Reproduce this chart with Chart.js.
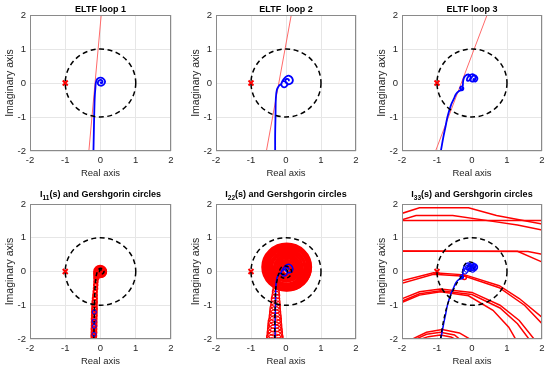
<!DOCTYPE html>
<html>
<head>
<meta charset="utf-8">
<script src="https://cdn.jsdelivr.net/npm/chart.js@4.4.1/dist/chart.umd.min.js"></script>
<style>
  body { margin: 0; width: 550px; height: 370px; overflow: hidden; background: #fff; position: relative; }
  canvas { position: absolute; }
</style>
</head>
<body>
<canvas id="p1" width="183" height="185" style="left:0px;top:0px"></canvas>
<canvas id="p2" width="182" height="185" style="left:186px;top:0px"></canvas>
<canvas id="p3" width="182" height="185" style="left:372px;top:0px"></canvas>
<canvas id="p4" width="183" height="184" style="left:0px;top:189px"></canvas>
<canvas id="p5" width="182" height="184" style="left:186px;top:189px"></canvas>
<canvas id="p6" width="182" height="184" style="left:372px;top:189px"></canvas>
<script>
// ---- data ----

// critical point
const critX = [-1];
const critY = [0];

// unit circle (centre x, centre y, radius)
const unitCx = [0];
const unitCy = [0];
const unitR = [1];

// thin red straight lines (top row)
const line1X = [-0.33, 0.02];
const line1Y = [-2, 2];
const line2X = [-0.56, 0.15];
const line2Y = [-2, 2];
const line3X = [-1.04, 0.43];
const line3Y = [-2, 2];

// ELTF loop 1
const eltf1X = [-0.20, -0.19, -0.18, -0.17, -0.16, -0.145, -0.13, -0.09, -0.01, 0.08, 0.13, 0.09, 0.00, -0.07, -0.06, 0.00, 0.05, 0.05, 0.01, 0.00];
const eltf1Y = [-2.00, -1.50, -1.00, -0.60, -0.35, -0.15, 0.02, 0.12, 0.16, 0.13, 0.04, -0.05, -0.08, -0.03, 0.05, 0.09, 0.06, 0.01, 0.00, 0.04];

// ELTF loop 2
const eltf2X = [-0.31, -0.31, -0.30, -0.29, -0.26, -0.20, -0.14, -0.10, -0.04, 0.03, 0.02, -0.06, -0.13, -0.12, -0.06, 0.02, 0.10, 0.18, 0.19, 0.12, 0.03, -0.02, 0.02, 0.08, 0.08];
const eltf2Y = [-2.00, -1.50, -1.00, -0.45, -0.20, -0.08, -0.03, 0.04, 0.05, 0.00, -0.09, -0.13, -0.07, 0.02, 0.12, 0.20, 0.21, 0.14, 0.04, -0.03, -0.02, 0.06, 0.12, 0.10, 0.05];

// ELTF loop 3
const eltf3X = [-0.89, -0.82, -0.75, -0.70, -0.60, -0.52, -0.46, -0.38, -0.32, -0.26, -0.25, -0.29, -0.34, -0.31, -0.27, -0.25, -0.20, -0.10, -0.04, -0.08, -0.14, -0.12, -0.03, 0.06, 0.10, 0.05, -0.03, -0.02, 0.07, 0.14, 0.15, 0.10, 0.04, 0.06];
const eltf3Y = [-2.00, -1.60, -1.25, -0.99, -0.65, -0.47, -0.33, -0.24, -0.22, -0.20, -0.14, -0.10, -0.14, -0.19, -0.14, 0.08, 0.20, 0.25, 0.18, 0.08, 0.07, 0.17, 0.25, 0.24, 0.15, 0.05, 0.05, 0.15, 0.23, 0.18, 0.10, 0.04, 0.08, 0.14];

// I11(s)
const i11X = [-0.19, -0.18, -0.17, -0.16, -0.14, -0.12, -0.08, -0.02, 0.06, 0.10, 0.07, 0.01, -0.03, 0.00, 0.04, 0.03];
const i11Y = [-2.00, -1.50, -1.00, -0.60, -0.30, -0.12, 0.02, 0.09, 0.08, 0.01, -0.06, -0.07, 0.00, 0.05, 0.03, 0.00];
const mark11X = [-0.175, -0.18, -0.18, -0.185];
const mark11Y = [-1.20, -1.47, -1.63, -1.86];
// Gershgorin circles for I11
const g11Cx = [-0.01, 0.01, -0.02, 0.01, 0.00, 0.02, -0.01, 0.00, 0.01, -0.08, -0.10, -0.12, -0.13, -0.135, -0.14, -0.15, -0.155, -0.16, -0.165, -0.17, -0.17, -0.175, -0.175, -0.18, -0.18, -0.18, -0.185, -0.185, -0.19, -0.19];
const g11Cy = [0.00, -0.01, 0.02, 0.00, 0.03, 0.01, 0.00, 0.01, 0.00, -0.05, -0.12, -0.20, -0.30, -0.40, -0.50, -0.60, -0.70, -0.80, -0.90, -1.00, -1.10, -1.20, -1.30, -1.40, -1.50, -1.60, -1.70, -1.80, -1.90, -2.00];
const g11R = [0.17, 0.15, 0.13, 0.12, 0.10, 0.08, 0.07, 0.05, 0.03, 0.10, 0.08, 0.06, 0.05, 0.05, 0.05, 0.05, 0.055, 0.06, 0.065, 0.065, 0.07, 0.07, 0.07, 0.07, 0.07, 0.07, 0.07, 0.07, 0.07, 0.07];

// I22(s)
const i22X = [-0.32, -0.32, -0.31, -0.30, -0.28, -0.24, -0.20, -0.14, -0.02, 0.10, 0.16, 0.11, -0.02, -0.14, -0.18, -0.10, 0.00, 0.05, 0.00, -0.04];
const i22Y = [-2.00, -1.50, -1.00, -0.60, -0.40, -0.20, -0.05, -0.16, -0.20, -0.15, -0.02, 0.11, 0.16, 0.11, 0.00, -0.08, -0.06, 0.02, 0.06, 0.02];
// Gershgorin circles for I22: the tail below the loop ...
const g22TailCx = [-0.32, -0.32, -0.32, -0.32, -0.32, -0.32, -0.32, -0.32, -0.31, -0.31, -0.31, -0.31, -0.30, -0.30, -0.30, -0.29, -0.29, -0.28, -0.28];
const g22TailCy = [-2.20, -2.10, -2.00, -1.90, -1.80, -1.70, -1.60, -1.50, -1.40, -1.30, -1.20, -1.10, -1.00, -0.90, -0.80, -0.70, -0.60, -0.50, -0.40];
const g22TailR = [0.26, 0.25, 0.24, 0.23, 0.22, 0.21, 0.20, 0.19, 0.18, 0.17, 0.16, 0.15, 0.14, 0.13, 0.12, 0.11, 0.10, 0.09, 0.08];
// ... and the dense disk around the origin
const g22DiskCx = [0.02, 0.03, 0.01, 0.02, 0.03, 0.00, 0.02, 0.04, 0.01, 0.02, 0.00, 0.03, 0.02, 0.00, 0.03, 0.01, 0.02, 0.00, 0.02, 0.00, 0.01];
const g22DiskCy = [0.13, 0.12, 0.14, 0.11, 0.15, 0.12, 0.14, 0.12, 0.10, 0.15, 0.12, 0.10, 0.13, 0.10, 0.12, 0.09, 0.11, 0.08, 0.06, 0.04, 0.02];
const g22DiskR = [0.69, 0.67, 0.64, 0.61, 0.58, 0.55, 0.52, 0.49, 0.46, 0.43, 0.40, 0.37, 0.34, 0.31, 0.28, 0.25, 0.22, 0.19, 0.16, 0.13, 0.10];

// I33(s)
const i33X = [-0.90, -0.84, -0.77, -0.69, -0.60, -0.52, -0.45, -0.38, -0.31, -0.28, -0.25, -0.20, -0.10, 0.00, 0.06, 0.05, -0.02, -0.10, -0.14, -0.08, 0.00];
const i33Y = [-2.00, -1.60, -1.25, -0.95, -0.70, -0.52, -0.38, -0.26, -0.15, -0.05, 0.10, 0.22, 0.28, 0.27, 0.18, 0.06, 0.00, 0.04, 0.12, 0.17, 0.12];
const mark33X = [-0.20, -0.15, -0.08, 0.00, 0.05, 0.08, -0.05, 0.02, -0.12];
const mark33Y = [0.00, 0.05, 0.10, 0.12, 0.08, 0.12, 0.15, 0.05, 0.12];
const g33Cx = [-0.22];
const g33Cy = [-0.18];
const g33R = [0.06];
// big Gershgorin circles of I33, as drawn (coarse polygons)
const arcAX = [-2.10, -1.50, -0.10, 0.70, 2.05];
const arcAY = [1.69, 1.89, 1.89, 1.66, 1.40];
const arcBX = [-2.10, -1.60, -0.55, 0.50, 1.30, 2.05];
const arcBY = [1.50, 1.66, 1.66, 1.50, 1.38, 1.22];
const arcCX = [-2.10, 2.05];
const arcCY = [1.51, 1.51];
const arcDX = [-2.10, 1.30, 2.05];
const arcDY = [0.60, 0.60, 0.26];
const arcEX = [-2.10, 1.60, 2.05];
const arcEY = [0.61, 0.59, 0.50];
const arcFX = [-2.10, -1.10, -0.20, 0.78, 1.35, 2.05];
const arcFY = [-0.30, -0.04, -0.10, -0.42, -0.80, -1.40];
const arcGX = [-2.10, -1.10, -0.20, 0.78, 1.50, 2.05];
const arcGY = [-0.38, -0.08, -0.14, -0.48, -1.00, -1.60];
const arcHX = [-2.10, -1.50, -0.90, 0.00, 0.80, 1.35, 1.85];
const arcHY = [-0.85, -0.60, -0.52, -0.62, -1.00, -1.45, -2.10];
const arcIX = [-2.10, -1.50, -0.90, 0.00, 0.80, 1.30, 1.70];
const arcIY = [-0.92, -0.66, -0.57, -0.68, -1.08, -1.55, -2.10];
const arcJX = [-2.10, -1.50, -0.90, -0.10, 0.60, 1.05, 1.30];
const arcJY = [-0.96, -0.70, -0.60, -0.72, -1.15, -1.65, -2.10];
const arcKX = [-1.80, -1.30, -0.85, -0.36, 0.02];
const arcKY = [-2.05, -1.80, -1.72, -1.82, -2.05];
const arcLX = [-1.70, -1.30, -0.90, -0.50, -0.30];
const arcLY = [-2.05, -1.86, -1.80, -1.88, -2.05];
const arcMX = [-1.60, -1.25, -0.90, -0.60, -0.40];
const arcMY = [-2.05, -1.93, -1.88, -1.94, -2.05];

// ---- drawing ----
const FONT = '"Liberation Sans", Arial, sans-serif';
const INK = '#262626';
const BLUE = '#0000ff';
const RED = '#ff0000';

const pts = (xs, ys) => xs.map((x, i) => ({ x: x, y: ys[i] }));

function lineSet(xs, ys, color, width, dash, order, tension) {
    return {
        data: pts(xs, ys), showLine: true, fill: false,
        borderColor: color, backgroundColor: color, borderWidth: width,
        borderDash: dash || [], pointRadius: 0, tension: tension === undefined ? 0.35 : tension,
        order: order
    };
}

function markerSet(xs, ys, color, style, radius, width, order) {
    return {
        data: pts(xs, ys), showLine: false,
        pointStyle: style, pointRadius: radius, pointBorderWidth: width,
        borderColor: color, pointBorderColor: color, backgroundColor: 'rgba(0,0,0,0)', pointBackgroundColor: 'rgba(0,0,0,0)',
        order: order
    };
}

// circles go through the chart's own scales (centre and radius in data units)
function drawCircles(chart, list) {
    const ctx = chart.ctx, area = chart.chartArea;
    const xs = chart.scales.x, ys = chart.scales.y;
    ctx.save();
    ctx.beginPath();
    ctx.rect(area.left, area.top, area.right - area.left, area.bottom - area.top);
    ctx.clip();
    list.forEach(c => {
        ctx.strokeStyle = c.color;
        ctx.lineWidth = c.width;
        ctx.setLineDash(c.dash || []);
        c.cx.forEach((cx, i) => {
            const px = xs.getPixelForValue(cx);
            const py = ys.getPixelForValue(c.cy[i]);
            const rx = Math.abs(xs.getPixelForValue(cx + c.r[i]) - px);
            const ry = Math.abs(ys.getPixelForValue(c.cy[i] + c.r[i]) - py);
            ctx.beginPath();
            ctx.ellipse(px, py, rx, ry, 0, 0, Math.PI * 2);
            ctx.stroke();
        });
    });
    ctx.restore();
}

// title with optional subscript part
function drawTitle(ctx, area, parts, baseline) {
    ctx.save();
    ctx.fillStyle = '#000';
    ctx.textBaseline = 'alphabetic';
    ctx.textAlign = 'left';
    const big = 'bold 9px ' + FONT;
    const small = 'bold 6.5px ' + FONT;
    let w = 0;
    parts.forEach(p => { ctx.font = p.sub ? small : big; w += ctx.measureText(p.t).width; });
    let x = (area.left + area.right) / 2 - w / 2;
    parts.forEach(p => {
        ctx.font = p.sub ? small : big;
        ctx.fillText(p.t, x, baseline + (p.sub ? 2.5 : 0));
        x += ctx.measureText(p.t).width;
    });
    ctx.restore();
}

function axis(title, isX) {
    return {
        type: 'linear', min: -2, max: 2,
        ticks: { stepSize: 1, color: INK, font: { family: FONT, size: 9.5 }, padding: 4 },
        grid: { color: '#e6e6e6', drawTicks: false },
        border: { display: false },
        title: {
            display: true, text: title, color: INK,
            font: { family: FONT, size: isX ? 9.5 : 10.5 },
            padding: isX ? { top: 0, bottom: 6.3 } : { top: 3.7, bottom: 0 }
        },
        afterFit: s => { if (isX) { s.height = 34; } else { s.width = 30; } }
    };
}

function makePlot(id, cfg) {
    const under = cfg.under || [];
    const over = [{ cx: unitCx, cy: unitCy, r: unitR, color: '#000', width: 1.5, dash: [5, 3.5] }];
    new Chart(document.getElementById(id), {
        type: 'scatter',
        data: { datasets: cfg.datasets.concat([markerSet(critX, critY, RED, 'crossRot', 3.5, 2, 0)]) },
        options: {
            responsive: false, animation: false, events: [],
            layout: { padding: { top: 15, right: 12, left: 0, bottom: 0 } },
            plugins: { legend: { display: false }, tooltip: { enabled: false } },
            scales: { x: axis('Real axis', true), y: axis('Imaginary axis', false) }
        },
        plugins: [{
            id: 'decor' + id,
            beforeDatasetsDraw(chart) { drawCircles(chart, under); },
            afterDatasetsDraw(chart) {
                drawCircles(chart, over);
                const a = chart.chartArea, ctx = chart.ctx;
                ctx.save();
                ctx.strokeStyle = '#8a8a8a';
                ctx.lineWidth = 1;
                ctx.strokeRect(Math.round(a.left) + 0.5, Math.round(a.top) + 0.5, Math.round(a.right - a.left) - 1, Math.round(a.bottom - a.top) - 1);
                ctx.restore();
                drawTitle(ctx, a, cfg.title, cfg.titleBase);
            }
        }]
    });
}

// top row: equivalent loop transfer functions
makePlot('p1', {
    title: [{ t: 'ELTF loop 1' }], titleBase: 11.5,
    datasets: [
        lineSet(line1X, line1Y, '#ff6a6a', 1, null, 5, 0),
        lineSet(eltf1X, eltf1Y, BLUE, 1.8, null, 3)
    ]
});
makePlot('p2', {
    title: [{ t: 'ELTF  loop 2' }], titleBase: 11.5,
    datasets: [
        lineSet(line2X, line2Y, '#ff6a6a', 1, null, 5, 0),
        lineSet(eltf2X, eltf2Y, BLUE, 1.8, null, 3)
    ]
});
makePlot('p3', {
    title: [{ t: 'ELTF loop 3' }], titleBase: 11.5,
    datasets: [
        lineSet(line3X, line3Y, '#ff6a6a', 1, null, 5, 0),
        lineSet(eltf3X, eltf3Y, BLUE, 1.8, null, 3)
    ]
});

// bottom row: diagonal elements with Gershgorin circles
makePlot('p4', {
    title: [{ t: 'I' }, { t: '11', sub: true }, { t: '(s) and Gershgorin circles' }], titleBase: 8,
    under: [{ cx: g11Cx, cy: g11Cy, r: g11R, color: RED, width: 2 }],
    datasets: [
        lineSet(i11X, i11Y, '#000', 1.5, [4, 3], 2),
        markerSet(mark11X, mark11Y, BLUE, 'circle', 2, 1, 1)
    ]
});
makePlot('p5', {
    title: [{ t: 'I' }, { t: '22', sub: true }, { t: '(s) and Gershgorin circles' }], titleBase: 8,
    under: [
        { cx: g22TailCx, cy: g22TailCy, r: g22TailR, color: RED, width: 1.2 },
        { cx: g22DiskCx, cy: g22DiskCy, r: g22DiskR, color: RED, width: 2.6 }
    ],
    datasets: [
        lineSet(eltf2X, eltf2Y, BLUE, 1.5, null, 3),
        lineSet(i22X, i22Y, '#000', 1.5, [4, 3], 2)
    ]
});
makePlot('p6', {
    title: [{ t: 'I' }, { t: '33', sub: true }, { t: '(s) and Gershgorin circles' }], titleBase: 8,
    under: [{ cx: g33Cx, cy: g33Cy, r: g33R, color: RED, width: 1.5 }],
    datasets: [
        lineSet(arcAX, arcAY, RED, 1.5, null, 6, 0),
        lineSet(arcBX, arcBY, RED, 1.5, null, 6, 0),
        lineSet(arcCX, arcCY, RED, 1.5, null, 6, 0),
        lineSet(arcDX, arcDY, RED, 1.5, null, 6, 0),
        lineSet(arcEX, arcEY, RED, 1.5, null, 6, 0),
        lineSet(arcFX, arcFY, RED, 1.5, null, 6, 0),
        lineSet(arcGX, arcGY, RED, 1.5, null, 6, 0),
        lineSet(arcHX, arcHY, RED, 1.5, null, 6, 0),
        lineSet(arcIX, arcIY, RED, 1.5, null, 6, 0),
        lineSet(arcJX, arcJY, RED, 1.5, null, 6, 0),
        lineSet(arcKX, arcKY, RED, 1.5, null, 6, 0),
        lineSet(arcLX, arcLY, RED, 1.5, null, 6, 0),
        lineSet(arcMX, arcMY, RED, 1.5, null, 6, 0),
        lineSet(eltf3X, eltf3Y, BLUE, 1.5, null, 3),
        lineSet(i33X, i33Y, '#000', 1.3, [4, 3], 2),
        markerSet(mark33X, mark33Y, BLUE, 'circle', 2.5, 1, 1)
    ]
});
</script>
</body>
</html>
